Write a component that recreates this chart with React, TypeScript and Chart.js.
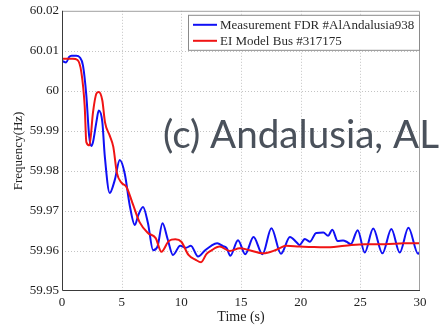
import React, { useEffect, useRef } from 'react';
import { Chart, registerables } from 'chart.js';

Chart.register(...registerables);

// ---- Data ----
const seriesLabels = ['Measurement FDR #AlAndalusia938', 'EI Model Bus #317175'];
const annotationText = '(c) Andalusia, AL';
const xTitle = 'Time (s)';
const yTitle = 'Frequency(Hz)';

const xTickValues = [0, 5, 10, 15, 20, 25, 30];
const yTickValues = [59.95, 59.96, 59.97, 59.98, 59.99, 60, 60.01, 60.02];

const timeMeasured = [
  0, 0.35, 0.6, 0.8, 1.2, 1.48, 1.76, 2.04, 2.27, 2.46, 2.6, 2.88, 3.08, 3.38, 3.58,
  4.0, 4.42, 4.84, 5.26, 5.67, 6.1, 6.4, 6.79, 7.2, 7.63, 8.0, 8.42, 8.85, 9.3, 9.9,
  10.4, 10.8, 11.4, 12.0, 12.5, 13.0, 13.5, 13.8, 14.1, 14.75, 15.35, 16.05, 16.8,
  17.55, 18.35, 19.1, 19.65, 19.9, 20.35, 20.76, 21.3, 21.9, 22.3, 22.65, 23.1, 23.55,
  23.85, 24.2, 24.78, 25.37, 26.08, 26.85, 27.6, 28.3, 29.03, 29.84, 30,
];
const freqMeasured = [
  60.0075, 60.0071, 60.0085, 60.0088, 60.0088, 60.0084, 60.0063, 59.9988, 59.9889, 59.9862,
  59.9872, 59.9922, 59.9951, 59.9922, 59.9839, 59.9745, 59.9777, 59.9827, 59.9793, 59.9715,
  59.9665, 59.969, 59.971, 59.967, 59.9602, 59.9611, 59.9669, 59.963, 59.959, 59.9613,
  59.9608, 59.9613, 59.9586, 59.9602, 59.9613, 59.9619, 59.9612, 59.9607, 59.9588, 59.9627,
  59.9592, 59.9635, 59.9592, 59.9657, 59.9593, 59.9635, 59.9622, 59.9615, 59.963, 59.9623,
  59.9645, 59.9646, 59.9638, 59.9653, 59.9625, 59.9626, 59.9623, 59.9617, 59.9652, 59.9596,
  59.9656, 59.9594, 59.9655, 59.9596, 59.9658, 59.9593, 59.9598,
];

const timeModel = [
  0, 0.9, 1.3, 1.62, 1.9, 2.04, 2.3, 2.6, 2.88, 3.08, 3.38, 3.6, 4.0, 4.3, 4.6, 5.0, 5.4,
  5.96, 6.5, 7.2, 7.85, 8.33, 8.95, 9.5, 10.0, 10.6, 11.2, 11.65, 12.1, 12.5, 13.2, 14.06,
  14.9, 15.7, 16.85, 17.97, 18.8, 19.9, 20.8, 22.0, 23.7, 25.4, 27.05, 28.7, 30,
];
const freqModel = [
  60.008, 60.008, 60.0077, 60.0047, 59.9963, 59.9872, 59.9864, 59.9947, 59.9993, 59.9997,
  59.9976, 59.9922, 59.9888, 59.986, 59.9795, 59.977, 59.976, 59.9715, 59.9672, 59.9645,
  59.9632, 59.9598, 59.9625, 59.9629, 59.9623, 59.959, 59.9578, 59.9572, 59.9592, 59.9601,
  59.9611, 59.96, 59.9607, 59.9602, 59.9594, 59.9603, 59.9613, 59.9611, 59.961, 59.9609,
  59.9613, 59.9617, 59.9617, 59.9619, 59.9619,
];

const seriesColors = ['#1010f5', '#f01414'];

const serif = '"Liberation Serif", "Times New Roman", serif';

const framePlugin = {
  id: 'frameAndLegend',
  beforeDatasetsDraw(chart: any) {
    const ctx = chart.ctx as CanvasRenderingContext2D;
    const { left, right, top, bottom } = chart.chartArea;
    const xs = chart.scales.x;
    const ys = chart.scales.y;
    ctx.save();
    ctx.strokeStyle = '#c4c4c4';
    ctx.lineWidth = 1;
    ctx.setLineDash([1, 2]);
    xTickValues.forEach((v) => {
      const px = Math.round(xs.getPixelForValue(v)) + 0.5;
      if (px <= left + 1 || px >= right - 1) return;
      ctx.beginPath();
      ctx.moveTo(px, top);
      ctx.lineTo(px, bottom);
      ctx.stroke();
    });
    yTickValues.forEach((v) => {
      const py = Math.round(ys.getPixelForValue(v)) + 0.5;
      if (py <= top + 1 || py >= bottom - 1) return;
      ctx.beginPath();
      ctx.moveTo(left, py);
      ctx.lineTo(right, py);
      ctx.stroke();
    });
    ctx.restore();
  },
  afterDatasetsDraw(chart: any) {
    const ctx = chart.ctx as CanvasRenderingContext2D;
    const { left, right, top, bottom } = chart.chartArea;
    ctx.save();
    // frame
    ctx.lineWidth = 1;
    ctx.strokeStyle = '#a0a0a0';
    ctx.beginPath();
    ctx.moveTo(left, top + 0.5);
    ctx.lineTo(right - 0.5, top + 0.5);
    ctx.lineTo(right - 0.5, bottom);
    ctx.stroke();
    ctx.strokeStyle = '#3a3a3a';
    ctx.beginPath();
    ctx.moveTo(left + 0.5, top);
    ctx.lineTo(left + 0.5, bottom - 0.5);
    ctx.lineTo(right, bottom - 0.5);
    ctx.stroke();

    // legend box
    const bx = right - 232;
    const by = top + 4;
    const bw = 231;
    const bh = 35;
    ctx.fillStyle = '#ffffff';
    ctx.fillRect(bx, by, bw, bh);
    ctx.strokeStyle = '#8a8a8a';
    ctx.strokeRect(bx + 0.5, by + 0.5, bw, bh);
    ctx.font = `13px ${serif}`;
    ctx.textBaseline = 'middle';
    ctx.textAlign = 'left';
    chart.data.datasets.forEach((ds: any, i: number) => {
      const y = by + 10 + i * 16;
      ctx.strokeStyle = ds.borderColor;
      ctx.lineWidth = 2;
      ctx.beginPath();
      ctx.moveTo(bx + 5, y);
      ctx.lineTo(bx + 29, y);
      ctx.stroke();
      ctx.fillStyle = '#2a2a2a';
      ctx.fillText(ds.label, bx + 32, y + 0.5);
    });
    ctx.restore();
  },
  afterDraw(chart: any) {
    const ctx = chart.ctx as CanvasRenderingContext2D;
    const { left } = chart.chartArea;
    ctx.save();
    const targetWidth = 276;
    let size = 36;
    ctx.font = `${size}px Lato, "Open Sans", sans-serif`;
    const w = ctx.measureText(annotationText).width;
    size = size * targetWidth / w;
    ctx.font = `${size}px Lato, "Open Sans", sans-serif`;
    ctx.fillStyle = '#4a515b';
    ctx.textBaseline = 'alphabetic';
    ctx.textAlign = 'left';
    ctx.fillText(annotationText, left + 101, 148);
    ctx.restore();
  },
};

export default function App() {
  const canvasRef = useRef<HTMLCanvasElement | null>(null);

  useEffect(() => {
    const canvas = canvasRef.current;
    if (!canvas) return;
    const chart = new Chart(canvas, {
      type: 'line',
      data: {
        datasets: [
          {
            label: seriesLabels[0],
            data: timeMeasured.map((t, i) => ({ x: t, y: freqMeasured[i] })),
            borderColor: seriesColors[0],
            backgroundColor: seriesColors[0],
            borderWidth: 2,
            pointRadius: 0,
            cubicInterpolationMode: 'monotone',
            order: 2,
          },
          {
            label: seriesLabels[1],
            data: timeModel.map((t, i) => ({ x: t, y: freqModel[i] })),
            borderColor: seriesColors[1],
            backgroundColor: seriesColors[1],
            borderWidth: 2,
            pointRadius: 0,
            cubicInterpolationMode: 'monotone',
            order: 1,
          },
        ],
      },
      options: {
        animation: false,
        responsive: false,
        devicePixelRatio: 1,
        layout: { padding: { left: 0, top: 10, right: 22, bottom: 0 } },
        plugins: { legend: { display: false }, tooltip: { enabled: false } },
        scales: {
          x: {
            type: 'linear',
            min: 0,
            max: 30,
            afterBuildTicks: (s: any) => {
              s.ticks = xTickValues.map((v) => ({ value: v }));
            },
            afterFit: (s: any) => {
              s.height = 35;
            },
            ticks: {
              color: '#222',
              font: { family: serif, size: 13 },
              padding: 4,
              maxRotation: 0,
              callback: (v: any) => String(v),
            },
            grid: { display: false, drawTicks: false },
            border: { display: false },
            title: {
              display: true,
              text: xTitle,
              color: '#222',
              font: { family: serif, size: 14 },
              padding: { top: 0, bottom: 0 },
            },
          },
          y: {
            type: 'linear',
            min: 59.95,
            max: 60.02,
            afterBuildTicks: (s: any) => {
              s.ticks = yTickValues.map((v) => ({ value: v }));
            },
            afterFit: (s: any) => {
              s.width = 62;
            },
            ticks: {
              color: '#222',
              font: { family: serif, size: 13 },
              padding: 3,
              callback: (v: any) => String(parseFloat(Number(v).toFixed(2))),
            },
            grid: { display: false, drawTicks: false },
            border: { display: false },
            title: {
              display: true,
              text: yTitle,
              color: '#222',
              font: { family: serif, size: 13 },
              padding: { top: 11, bottom: 0 },
            },
          },
        },
      },
      plugins: [framePlugin],
    } as any);
    return () => chart.destroy();
  }, []);

  return (
    <div style={{ position: 'absolute', left: 0, top: 0, width: 442, height: 326, background: '#fff' }}>
      <canvas ref={canvasRef} width={442} height={326} style={{ width: 442, height: 326, display: 'block' }} />
    </div>
  );
}
